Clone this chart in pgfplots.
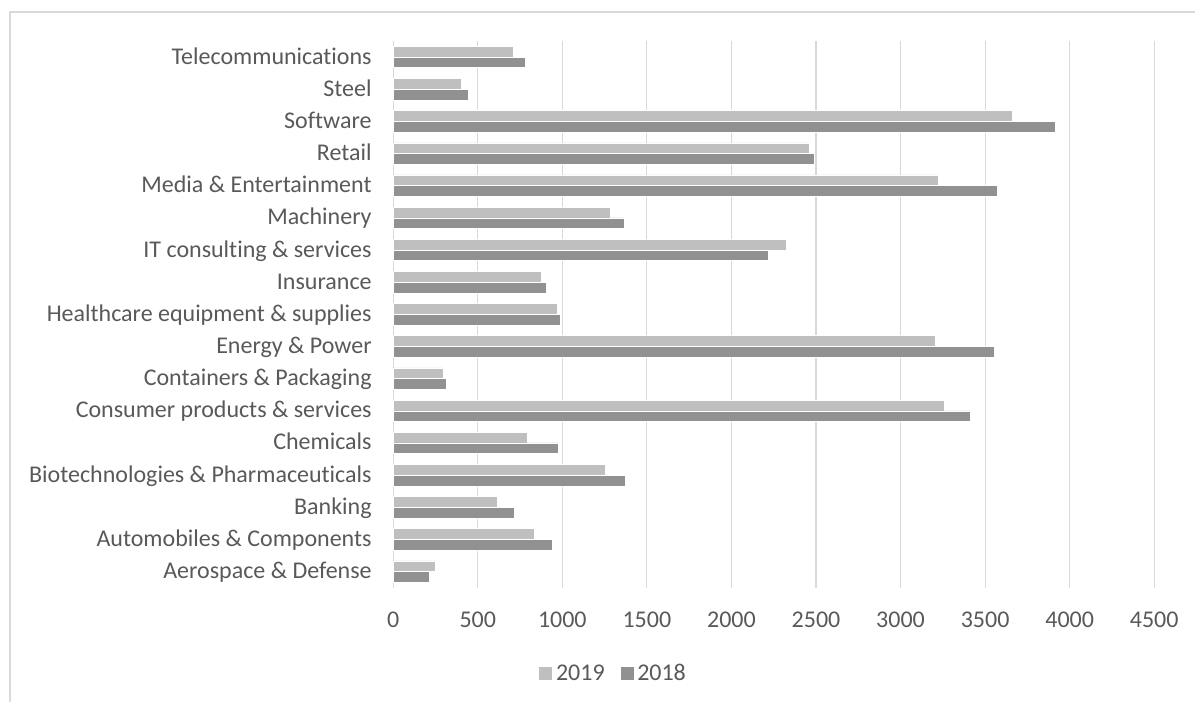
\documentclass[border=0pt]{standalone}
\usepackage{fontspec}
\setmainfont{Carlito}[Ligatures=NoCommon]
\usepackage{pgfplots}
\pgfplotsset{compat=1.18}
\definecolor{txt}{HTML}{595959}
\definecolor{gridc}{HTML}{D9D9D9}
\definecolor{cA}{HTML}{BFBFBF}
\definecolor{cB}{HTML}{919191}
\begin{document}
\begin{tikzpicture}
\path (0pt,0pt) rectangle (1196pt,702pt);
\draw[gridc, line width=1.2pt] (10pt,0pt) -- (10pt,690pt) -- (1196pt,690pt);
\begin{axis}[
 at={(393.4pt,114pt)}, anchor=south west,
 scale only axis, width=761.4pt, height=547pt,
 xbar, bar width=0.333,
 xmin=0, xmax=4500, ymin=-0.5, ymax=16.5,
 xtick={0,500,...,4500}, ytick={0,...,16},
 yticklabels={Aerospace \& Defense, Automobiles \& Components, Banking, Biotechnologies \& Pharmaceuticals, Chemicals, Consumer products \& services, Containers \& Packaging, Energy \& Power, Healthcare equipment \& supplies, Insurance, IT consulting \& services, Machinery, Media \& Entertainment, Retail, Software, Steel, Telecommunications},
 xmajorgrids, major grid style={gridc, line width=1.2pt},
 axis line style={draw=none}, major tick length=0pt, tick style={draw=none},
 font=\fontsize{24}{29}\selectfont,
 ticklabel style={text=txt},
 /pgf/number format/assume math mode=true,
 /pgf/number format/set thousands separator={},
 xticklabel style={anchor=center, yshift=-32pt},
 yticklabel style={anchor=base east, inner sep=0pt, xshift=-21.4pt, yshift=-7pt},
 legend image code/.code={\fill[#1] (0pt,-7pt) rectangle (14pt,7pt);},
 legend style={at={(0.2897,-0.1563)}, anchor=center, draw=none, fill=none,
   legend columns=-1, text=txt, font=\fontsize{24}{29}\selectfont,
   nodes={inner sep=3pt},
   /tikz/every even column/.append style={column sep=12pt}},
]
\addplot[fill=cA, draw=white, line width=0.6pt, bar shift=0.1665] coordinates {
 (249,0) (832,1) (618,2) (1253,3) (794,4) (3257,5) (294,6) (3207,7) (970,8) (878,9) (2327,10) (1282,11) (3225,12) (2462,13) (3660,14) (401,15) (708,16)};
\addplot[fill=cB, draw=white, line width=0.6pt, bar shift=-0.1665] coordinates {
 (215,0) (939,1) (719,2) (1375,3) (977,4) (3415,5) (314,6) (3554,7) (986,8) (905,9) (2216,10) (1366,11) (3575,12) (2492,13) (3918,14) (446,15) (782,16)};
\legend{2019, 2018}
\end{axis}
\end{tikzpicture}
\end{document}
